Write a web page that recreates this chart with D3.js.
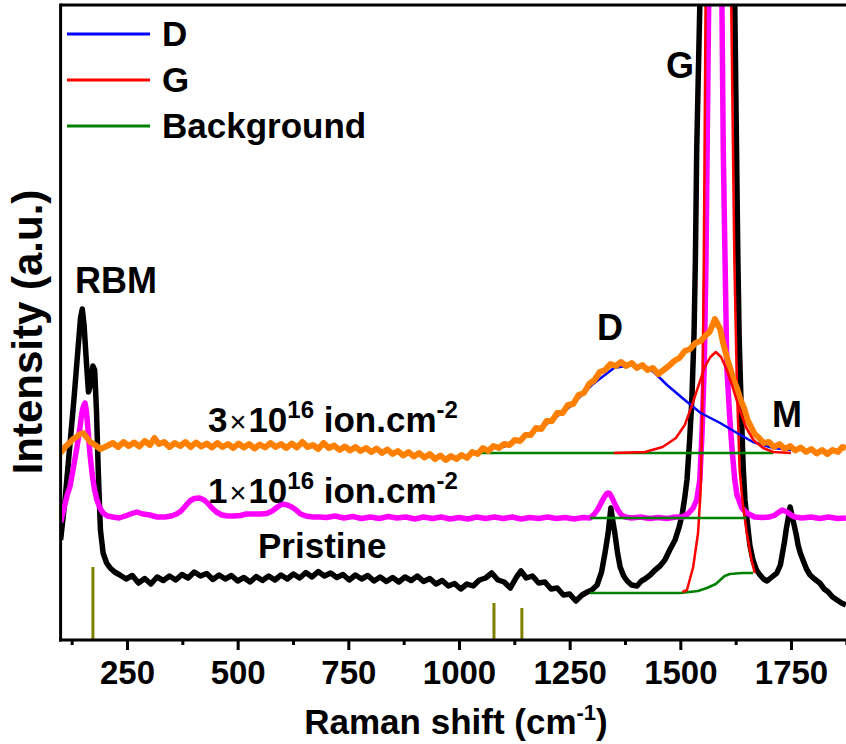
<!DOCTYPE html>
<html>
<head>
<meta charset="utf-8">
<script src="https://cdn.jsdelivr.net/npm/d3@7"></script>
<style>
  body { margin: 0; background: #fff; }
  svg text { font-family: "Liberation Sans", Arial, sans-serif; font-weight: bold; fill: #000; }
</style>
</head>
<body>
<svg id="chart" width="846" height="744"></svg>
<script>
// Raman shift (cm-1), intensity (a.u., offset spectra)
const pristine = [
  [100, 20], [110, 28], [120, 38], [130, 48], [140, 59], [145, 64.4], [149, 66.2], [153, 63], [158, 56],
  [163, 49.6], [168, 51], [173, 54.8], [177, 54], [181, 46], [185, 34], [190, 22], [196, 17.4], [204, 15.4],
  [212, 14.4], [222, 13.6], [234, 13.0], [248, 12.2], [262, 12.9], [276, 11.4], [290, 12.3], [304, 11.2],
  [318, 12.6], [332, 11.9], [346, 12.8], [360, 12.0], [374, 13.1], [388, 12.4], [402, 13.6], [416, 12.8],
  [430, 13.3], [444, 12.1], [458, 13.0], [472, 12.2], [486, 12.9], [500, 11.8], [514, 12.5], [528, 11.6],
  [542, 12.7], [556, 11.9], [570, 12.8], [584, 12.0], [598, 13.0], [612, 12.2], [626, 13.2], [640, 12.4],
  [654, 13.5], [668, 12.6], [682, 13.7], [696, 12.8], [710, 13.4], [724, 12.5], [738, 13.1], [752, 12.0],
  [766, 13.0], [780, 12.2], [794, 12.9], [808, 11.8], [822, 12.6], [836, 11.7], [850, 12.5], [864, 11.6],
  [878, 12.6], [892, 11.9], [906, 12.8], [920, 11.7], [934, 12.3], [948, 11.2], [962, 11.9], [976, 10.8],
  [990, 11.3], [1004, 10.2], [1018, 11.2], [1032, 10.8], [1046, 12.0], [1060, 12.4], [1074, 13.4], [1088, 12.0],
  [1102, 11.6], [1116, 10.4], [1130, 12.6], [1140, 13.8], [1152, 12.4], [1166, 12.8], [1180, 11.4], [1194, 11.6],
  [1208, 10.2], [1222, 10.4], [1236, 9.0], [1250, 9.2], [1264, 7.8], [1278, 9.0], [1290, 9.6], [1300, 10.0],
  [1312, 11.0], [1322, 13.6], [1330, 17.5], [1337, 21.4], [1343, 26.4], [1348, 23.5], [1352, 21.4], [1358, 17.5],
  [1364, 14.6], [1372, 12.8], [1380, 11.8], [1390, 11.0], [1402, 10.8], [1412, 11.8], [1420, 12.2], [1432, 13.0],
  [1443, 14.0], [1454, 14.8], [1465, 16.0], [1476, 18.0], [1488, 20.0], [1497, 22.5], [1504, 25.0], [1510, 28.5],
  [1515, 32], [1521, 40], [1526, 48], [1531, 61.4], [1534, 76], [1537, 98], [1544, 127], [1556, 180],
  [1583, 250], [1612, 180], [1623, 127], [1630, 76], [1633, 60], [1637, 48], [1642, 34.6], [1646, 28],
  [1650, 24.6], [1657, 19], [1664, 16], [1672, 14], [1680, 13], [1688, 12.2], [1696, 11.8], [1707, 12.6],
  [1718, 13.4], [1726, 15.0], [1730, 17], [1735, 19.5], [1739, 22], [1744, 24.5], [1748, 26.6], [1752, 25],
  [1757, 23], [1762, 21], [1766, 19], [1771, 17.4], [1777, 16], [1785, 14.2], [1793, 13], [1803, 12.2],
  [1815, 11.4], [1825, 10.2], [1834, 9.6], [1844, 8.6], [1854, 8], [1864, 7.4], [1874, 7]
];

const dose1e16 = [
  [100, 23.5], [108, 26.5], [115, 29], [121, 30.6], [129, 34.5], [137, 38.6], [143, 42], [148, 45.4],
  [152, 46.8], [155, 47.4], [158, 46], [162, 42], [166, 37.5], [171, 33.4], [176, 30.4], [182, 28],
  [189, 26.4], [196, 25.4], [206, 24.8], [218, 24.6], [232, 24.4], [246, 24.8], [258, 25.2], [272, 25.6],
  [286, 25.2], [302, 25.0], [318, 24.6], [336, 24.6], [350, 24.8], [362, 25.2], [372, 25.8], [382, 26.8],
  [392, 27.8], [402, 28.3], [414, 28.4], [424, 28.0], [432, 27.4], [442, 26.4], [452, 25.6], [464, 25.0],
  [478, 24.8], [492, 24.8], [506, 24.9], [520, 25.2], [536, 25.2], [552, 25.2], [566, 25.3], [578, 25.8],
  [590, 26.6], [600, 27.2], [612, 27.0], [622, 26.6], [632, 26.0], [642, 25.2], [654, 24.8], [670, 24.6],
  [686, 24.6], [700, 24.5], [720, 24.8], [740, 24.4], [760, 24.7], [780, 24.3], [800, 24.6], [820, 24.3],
  [840, 24.7], [860, 24.4], [880, 24.6], [900, 24.2], [920, 24.6], [940, 24.3], [960, 24.6], [980, 24.2],
  [1000, 24.5], [1020, 24.2], [1040, 24.6], [1060, 24.3], [1080, 24.6], [1100, 24.3], [1120, 24.6], [1140, 24.2],
  [1160, 24.5], [1180, 24.3], [1200, 24.6], [1220, 24.3], [1240, 24.5], [1260, 24.2], [1280, 24.5], [1296, 24.4],
  [1306, 25.2], [1314, 26.2], [1321, 27.4], [1327, 28.4], [1333, 29.2], [1337, 29.4], [1341, 29.2], [1346, 28.4],
  [1352, 27.2], [1359, 26], [1367, 25], [1375, 24.6], [1390, 24.4], [1410, 24.6], [1430, 24.3], [1450, 24.5],
  [1470, 24.3], [1490, 24.6], [1505, 24.6], [1517, 25.2], [1529, 26.4], [1537, 28], [1544, 32], [1549, 41.4],
  [1554, 54.6], [1558, 76], [1561, 102], [1564, 127], [1570, 200], [1578, 300], [1586, 200], [1594, 127],
  [1597, 98], [1601, 76], [1605, 54.6], [1612, 44], [1617, 38], [1623, 32], [1628, 29], [1639, 26.4],
  [1650, 25.4], [1668, 24.6], [1685, 24.5], [1702, 24.6], [1712, 24.9], [1720, 25.4], [1730, 26], [1741, 25.6],
  [1750, 25.0], [1759, 24.6], [1775, 24.4], [1795, 24.6], [1815, 24.3], [1835, 24.6], [1855, 24.3], [1874, 24.4]
];

const dose3e16 = [
  [100, 37.4], [110, 38.6], [120, 39.4], [128, 40.2], [136, 40.6], [144, 41.2], [151, 41.4], [158, 40.6],
  [167, 39.6], [178, 39.0], [190, 38.2], [205, 38.8], [218, 39.4], [230, 38.6], [242, 39.6], [254, 38.8],
  [266, 39.5], [278, 38.7], [290, 39.8], [302, 39.0], [312, 40.4], [322, 39.2], [334, 39.6], [346, 38.6],
  [358, 39.4], [370, 38.8], [382, 39.6], [394, 38.6], [406, 39.5], [418, 38.7], [430, 39.3], [442, 38.5],
  [454, 39.4], [466, 38.6], [478, 39.2], [490, 38.4], [502, 39.3], [514, 38.5], [526, 39.2], [538, 38.3],
  [550, 39.1], [562, 38.5], [574, 39.4], [586, 38.6], [598, 39.2], [610, 38.4], [622, 39.3], [634, 38.5],
  [646, 39.6], [658, 38.6], [670, 39.0], [682, 38.2], [694, 39.4], [706, 38.4], [718, 38.9], [730, 38.0],
  [742, 38.7], [754, 37.9], [766, 38.6], [778, 37.8], [790, 38.4], [802, 37.6], [814, 38.3], [826, 37.4],
  [838, 38.1], [850, 37.2], [862, 37.8], [874, 36.9], [886, 37.6], [898, 36.7], [910, 37.4], [922, 36.5],
  [934, 37.2], [946, 36.2], [958, 36.9], [970, 36.0], [982, 36.8], [994, 36.2], [1006, 37.0], [1018, 36.4],
  [1030, 37.6], [1042, 37.2], [1054, 38.4], [1066, 37.8], [1078, 38.8], [1090, 38.4], [1102, 39.2], [1114, 39.0],
  [1126, 40.0], [1138, 39.8], [1150, 41.0], [1162, 41.0], [1174, 42.4], [1186, 42.2], [1198, 43.8], [1210, 43.8],
  [1222, 45.4], [1234, 45.4], [1246, 47.0], [1258, 47.2], [1270, 49.0], [1282, 49.4], [1294, 51.2], [1306, 52.0],
  [1318, 53.6], [1330, 54.0], [1342, 55.2], [1354, 54.8], [1366, 55.6], [1378, 54.8], [1390, 55.4], [1402, 54.4],
  [1414, 55.0], [1426, 54.0], [1438, 54.4], [1450, 53.2], [1462, 54.0], [1474, 54.8], [1486, 55.8], [1498, 56.4],
  [1510, 57.8], [1522, 58.2], [1534, 59.4], [1546, 59.8], [1558, 61.0], [1566, 61.6], [1572, 62.8], [1578, 64.2],
  [1584, 63.2], [1590, 62.2], [1596, 59.6], [1602, 57.6], [1608, 55.6], [1614, 54.0], [1620, 52.0], [1628, 50.4],
  [1636, 48.0], [1644, 46.4], [1652, 44.0], [1660, 42.6], [1668, 41.2], [1678, 40.4], [1688, 39.4], [1700, 39.6],
  [1712, 38.6], [1724, 39.2], [1736, 38.2], [1748, 38.8], [1760, 37.9], [1772, 38.5], [1784, 37.6], [1796, 38.2],
  [1808, 37.3], [1820, 38.0], [1832, 37.2], [1844, 38.0], [1856, 37.6], [1866, 38.6], [1874, 38.4]
];

// fitted components
const fitD3e16 = [
  [1100, 38.6], [1150, 40.6], [1200, 43.3], [1250, 46.6], [1300, 51], [1350, 54.4], [1390, 55.0], [1420, 54.5],
  [1440, 53.6], [1470, 51], [1510, 48], [1546, 45.4], [1590, 43.4], [1628, 41.4], [1664, 39.6], [1687, 39],
  [1710, 38.4], [1750, 38]
];
const fitG3e16 = [
  [1350, 37.4], [1420, 37.6], [1460, 38.6], [1490, 40.4], [1510, 43], [1525, 46.6], [1540, 50.6], [1555, 54.6],
  [1568, 56.6], [1580, 57.6], [1592, 56.6], [1605, 54], [1618, 50.6], [1632, 46.6], [1648, 42.6], [1665, 40],
  [1687, 38.4], [1710, 37.6], [1750, 37.4]
];
const bg3e16 = [[1025, 37.4], [1710, 37.4]];
const bg1e16 = [[1296, 24.4], [1650, 24.4]];
const fitGPristine = [
  [1505, 9.6], [1515, 10], [1529, 14.6], [1540, 21.4], [1546, 30], [1550, 48], [1553, 76], [1557, 127],
  [1585, 220], [1615, 127], [1622, 76], [1628, 50], [1634, 34], [1640, 28], [1650, 21.4], [1661, 16], [1668, 13.4]
];
const bgPristine = [
  [1296, 9.4], [1500, 9.4], [1540, 9.8], [1560, 10.4], [1580, 11.2], [1590, 12], [1600, 12.8], [1612, 13.2],
  [1640, 13.4], [1664, 13.4]
];

// reference lines (position, height)
const refSticks = [[173, 14.6], [1079, 7.4], [1142, 6.4]];

const majorTicks = [250, 500, 750, 1000, 1250, 1500, 1750];
const minorTicks = [125, 375, 625, 875, 1125, 1375, 1625, 1875];
const legendItems = [["D", "#0000ff"], ["G", "#ff0000"], ["Background", "#008000"]];

const svg = d3.select("#chart");
const x = d3.scaleLinear().domain([100, 1900]).range([60.6, 857.4]);
const y = d3.scaleLinear().domain([0, 127]).range([640, 5]);

svg.append("defs").append("clipPath").attr("id", "plot")
  .append("rect").attr("x", 60.6).attr("y", 5).attr("width", 800).attr("height", 635);

const line = d3.line().x(d => x(d[0])).y(d => y(d[1]));
const plot = svg.append("g").attr("clip-path", "url(#plot)");

// olive reference sticks
plot.selectAll("line.stick")
  .data(refSticks)
  .enter()
  .append("line")
  .attr("x1", d => x(d[0])).attr("x2", d => x(d[0]))
  .attr("y1", y(0)).attr("y2", d => y(d[1]))
  .attr("stroke", "#808000")
  .attr("stroke-width", 3);

function drawLine(data, color, width) {
  plot.append("path")
    .datum(data)
    .attr("d", line)
    .attr("fill", "none")
    .attr("stroke", color)
    .attr("stroke-width", width)
    .attr("stroke-linejoin", "round");
}

drawLine(pristine, "#000000", 5.5);
drawLine(dose1e16, "#ff00ff", 5.5);
drawLine(bgPristine, "#008000", 2.5);
drawLine(fitGPristine, "#ff0000", 2.5);
drawLine(bg1e16, "#008000", 2.5);
drawLine(bg3e16, "#008000", 2.5);
drawLine(fitD3e16, "#0000ff", 2.5);
drawLine(dose3e16, "#ff8000", 6);
drawLine(fitG3e16, "#ff0000", 2.5);

// axes
const ax = svg.append("g").attr("transform", "translate(0,640)")
  .call(d3.axisBottom(x).tickValues(majorTicks).tickSize(10).tickPadding(11).tickFormat(d3.format("d")));
ax.select(".domain").remove();
ax.selectAll(".tick line").attr("stroke-width", 3);
ax.selectAll(".tick text").attr("font-size", 33).attr("font-family", null);

const axm = svg.append("g").attr("transform", "translate(0,640)")
  .call(d3.axisBottom(x).tickValues(minorTicks).tickSize(5).tickFormat(""));
axm.select(".domain").remove();
axm.selectAll(".tick line").attr("stroke-width", 3);

// frame
svg.append("line").attr("x1", 60.6).attr("x2", 846).attr("y1", 5).attr("y2", 5).attr("stroke", "#000").attr("stroke-width", 3);
svg.append("line").attr("x1", 59.1).attr("x2", 846).attr("y1", 640).attr("y2", 640).attr("stroke", "#000").attr("stroke-width", 3);
svg.append("line").attr("x1", 60.6).attr("x2", 60.6).attr("y1", 3.5).attr("y2", 641.5).attr("stroke", "#000").attr("stroke-width", 3);

// axis titles
const xt = svg.append("text").attr("x", 456).attr("y", 734).attr("text-anchor", "middle").attr("font-size", 35);
xt.append("tspan").text("Raman shift (cm");
xt.append("tspan").attr("font-size", 22).attr("dy", -14).text("-1");
xt.append("tspan").attr("dy", 14).text(")");

svg.append("text")
  .attr("transform", "translate(42,332) rotate(-90)")
  .attr("text-anchor", "middle")
  .attr("font-size", 42)
  .text("Intensity (a.u.)");

// legend
const lg = svg.append("g").selectAll("g")
  .data(legendItems)
  .enter()
  .append("g")
  .attr("transform", (d, i) => `translate(0,${34 + i * 46})`);
lg.append("line").attr("x1", 67).attr("x2", 150).attr("stroke", d => d[1]).attr("stroke-width", 3);
lg.append("text").attr("x", 162).attr("y", 12).attr("font-size", 35).text(d => d[0]);

// peak labels
const labels = [["RBM", 75, 293], ["D", 597, 340], ["G", 666, 78], ["M", 772, 427]];
svg.selectAll("text.peak")
  .data(labels)
  .enter()
  .append("text")
  .attr("x", d => d[1]).attr("y", d => d[2])
  .attr("font-size", 36)
  .text(d => d[0]);

function doseLabel(lead, yb) {
  const t = svg.append("text").attr("x", 208).attr("y", yb).attr("font-size", 35);
  t.append("tspan").text(lead);
  t.append("tspan").attr("font-weight", "normal").attr("font-size", 29).attr("dx", 2).text("\u00d7");
  t.append("tspan").attr("dx", 2).text("10");
  t.append("tspan").attr("font-size", 24).attr("dy", -14).text("16");
  t.append("tspan").attr("dy", 14).text(" ion.cm");
  t.append("tspan").attr("font-size", 24).attr("dy", -14).text("-2");
}
doseLabel("3", 432);
doseLabel("1", 503);

svg.append("text").attr("x", 258).attr("y", 558).attr("font-size", 35).text("Pristine");
</script>
</body>
</html>
